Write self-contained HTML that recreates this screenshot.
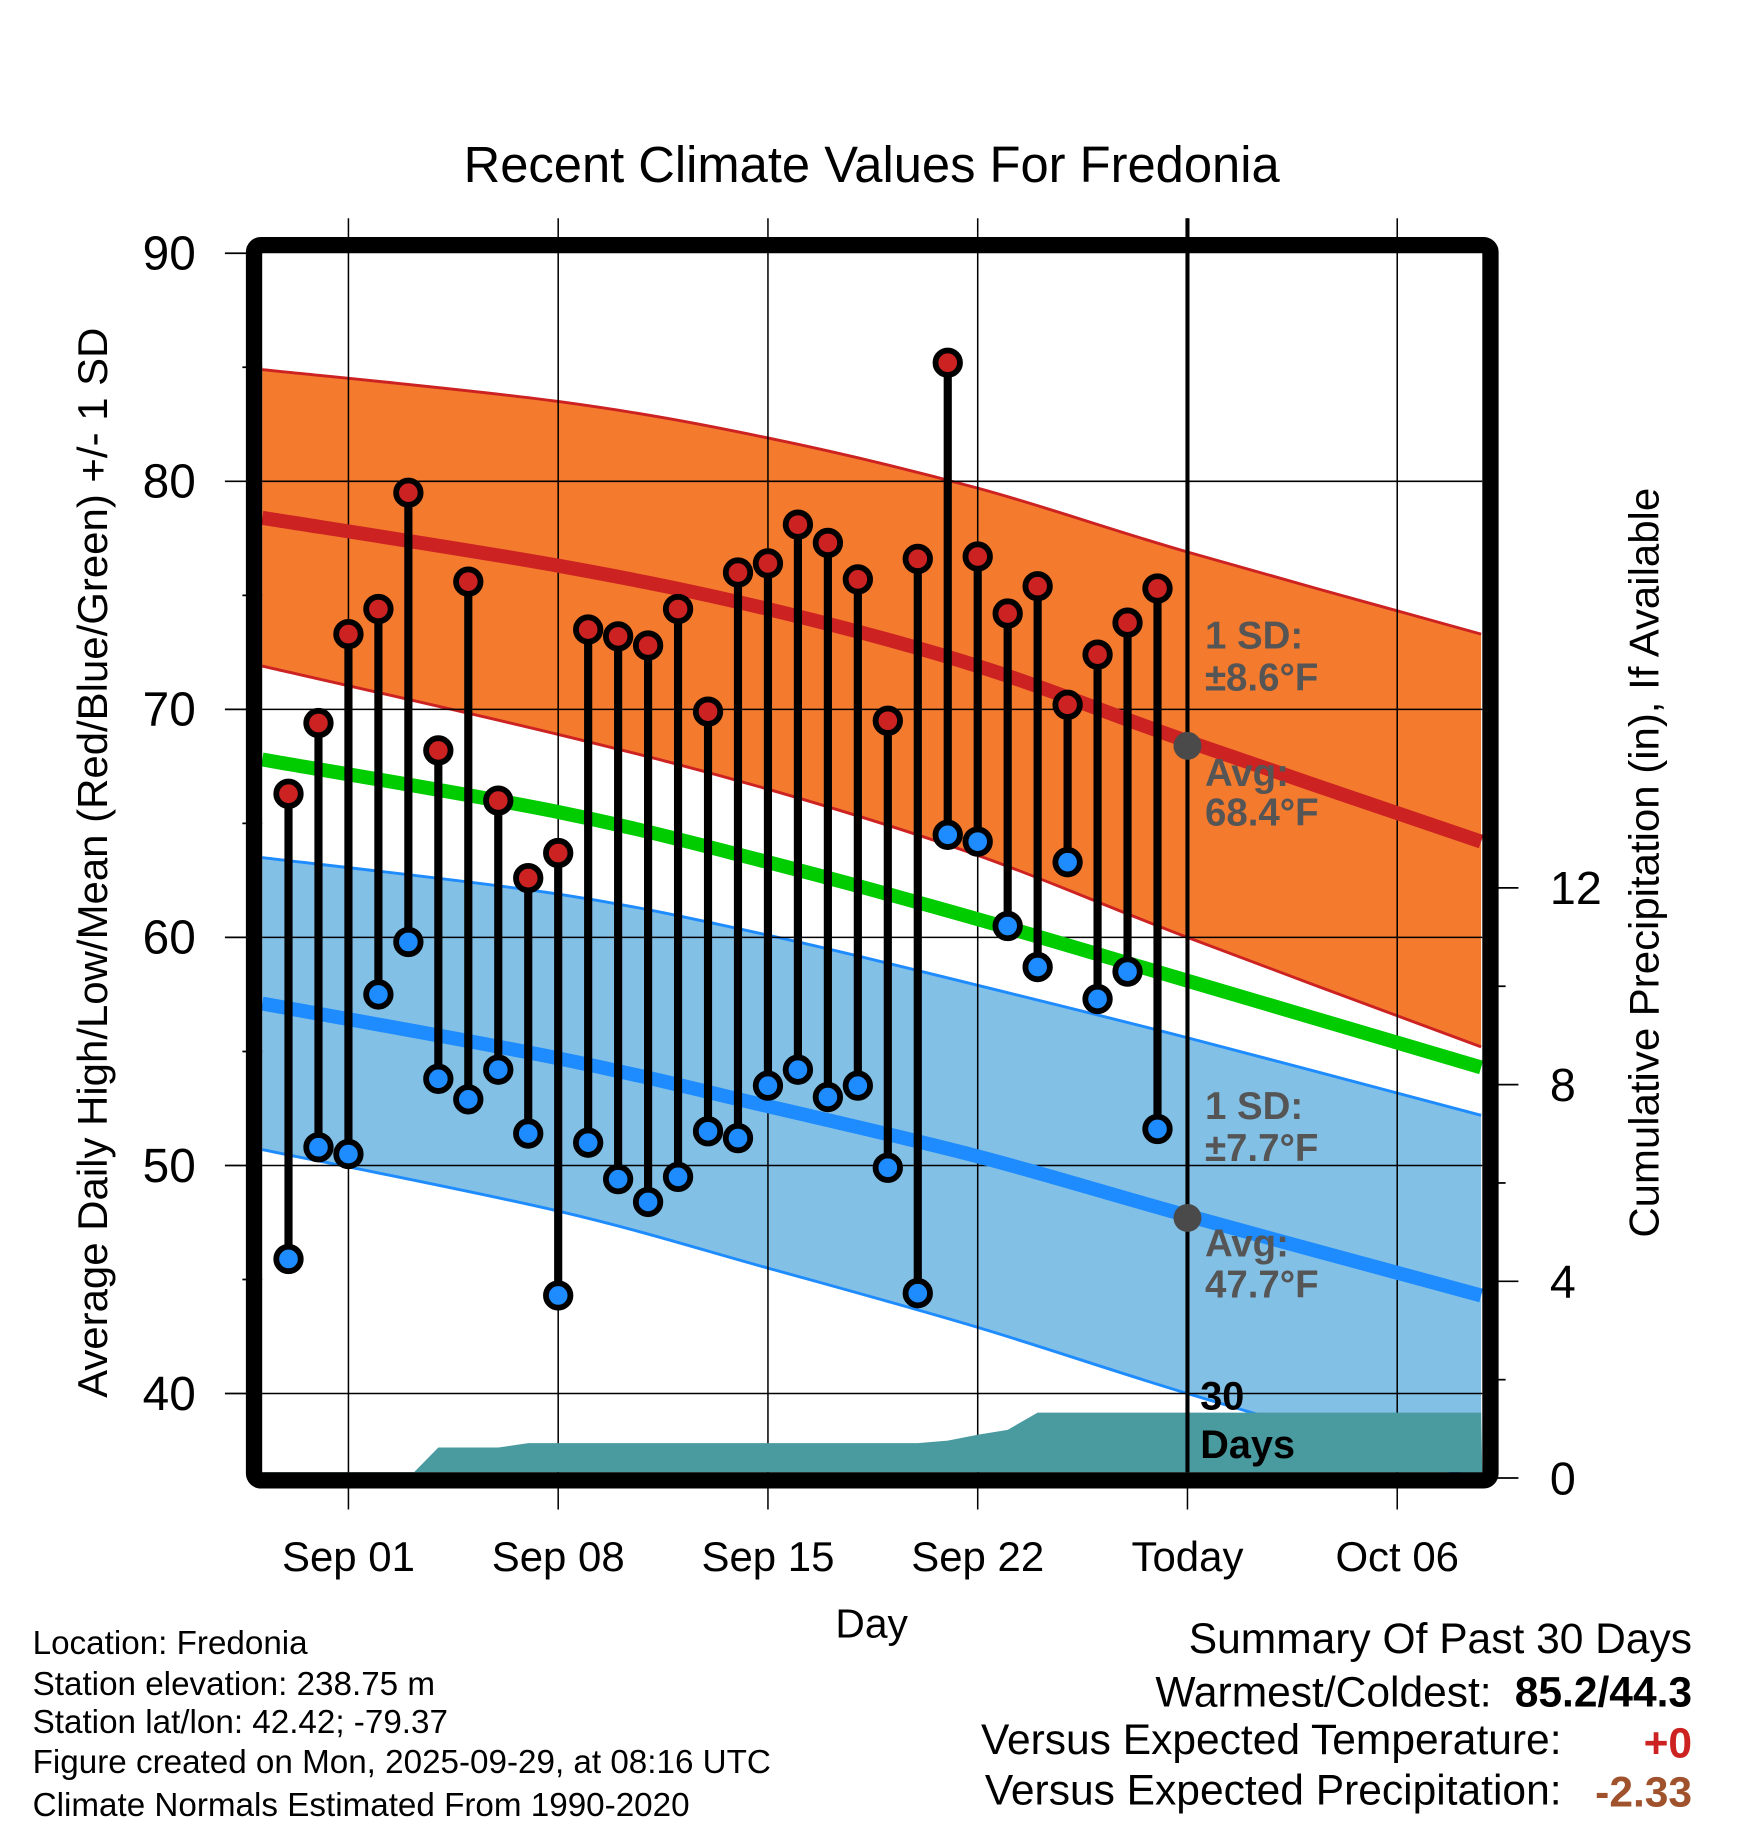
<!DOCTYPE html>
<html><head><meta charset="utf-8">
<style>
html,body{margin:0;padding:0;background:#fff;}
svg{display:block;font-family:"Liberation Sans",Arial,sans-serif;}
</style></head>
<body>
<svg id="chart" width="1748" height="1828" viewBox="0 0 1500 1568" xmlns="http://www.w3.org/2000/svg">
<g id="bands"></g>
<g id="grid"></g>
<g id="precip"></g>
<g id="lines"></g>
<g id="marks"></g>
<g id="frame"></g>
<g id="labels"></g>
</svg>
<script>
// ---- data ----
// day index: Sep 01 = 0
const tickDays = [0, 7, 14, 21, 28, 35];
const tickLabels = ["Sep 01", "Sep 08", "Sep 15", "Sep 22", "Today", "Oct 06"];
const yTicks = [40, 50, 60, 70, 80, 90];
const precipTicks = [0, 4, 8, 12];
const obsDays = [-2,-1,0,1,2,3,4,5,6,7,8,9,10,11,12,13,14,15,16,17,18,19,20,21,22,23,24,25,26,27];
const highs = [66.3,69.4,73.3,74.4,79.5,68.2,75.6,66.0,62.6,63.7,73.5,73.2,72.8,74.4,69.9,76.0,76.4,78.1,77.3,75.7,69.5,76.6,85.2,76.7,74.2,75.4,70.2,72.4,73.8,75.3];
const lows  = [45.9,50.8,50.5,57.5,59.8,53.8,52.9,54.2,51.4,44.3,51.0,49.4,48.4,49.5,51.5,51.2,53.5,54.2,53.0,53.5,49.9,44.4,64.5,64.2,60.5,58.7,63.3,57.3,58.5,51.6];
const normDays = [-2.9, 7, 14, 21, 28, 37.8];
const highUpper = [84.9, 83.5, 81.9, 79.7, 76.9, 73.3];
const highAvg   = [78.4, 76.3, 74.4, 71.9, 68.6, 64.2];
const highLower = [71.9, 68.9, 66.5, 63.6, 60.0, 55.2];
const meanAvg   = [67.8, 65.5, 63.3, 60.8, 58.1, 54.3];
const lowUpper  = [63.5, 61.9, 60.1, 57.9, 55.6, 52.2];
const lowAvg    = [57.1, 54.7, 52.6, 50.4, 47.8, 44.3];
const lowLower  = [50.7, 48.0, 45.5, 42.9, 40.0, 36.2];
const precipDays = [-2.9,1,2,3,4,5,6,7,8,9,10,11,12,13,14,15,16,17,18,19,20,21,22,23,24,25,26,27,37.8];
const precipCum  = [0,0,0,0.62,0.62,0.62,0.71,0.71,0.71,0.71,0.71,0.71,0.71,0.71,0.71,0.71,0.71,0.71,0.71,0.71,0.76,0.88,0.98,1.33,1.33,1.33,1.33,1.33,1.33];

// ---- axes ----
const L=225, R=1272, T=217, B=1263;
const x = d => 299 + d*25.714;
const y = t => 217 + (90 - t)*19.57;
const yp = p => 1268 - p*42.2;
const NS="http://www.w3.org/2000/svg";
function mk(parent, tag, attrs, text){
  const e=document.createElementNS(NS,tag);
  for(const k in attrs) e.setAttribute(k, attrs[k]);
  if(text!==undefined) e.textContent=text;
  document.getElementById(parent).appendChild(e);
  return e;
}
function pts(days, vals, f){ return days.map((d,i)=>[Math.max(L,Math.min(R,x(d))), f(vals[i])]); }
// smooth Catmull-Rom path through points
function smooth(p, move){
  let s = (move?'M':'L')+p[0][0]+','+p[0][1];
  for(let i=0;i<p.length-1;i++){
    const p0=p[Math.max(0,i-1)], p1=p[i], p2=p[i+1], p3=p[Math.min(p.length-1,i+2)];
    const c1=[p1[0]+(p2[0]-p0[0])/6, p1[1]+(p2[1]-p0[1])/6];
    const c2=[p2[0]-(p3[0]-p1[0])/6, p2[1]-(p3[1]-p1[1])/6];
    s+=` C${c1[0]},${c1[1]} ${c2[0]},${c2[1]} ${p2[0]},${p2[1]}`;
  }
  return s;
}
function band(up, lo){ return smooth(pts(normDays,up,y),true)+' '+smooth(pts(normDays,lo,y).reverse(),false)+' Z'; }

let e;
e=mk('bands','path',{d: band(highUpper,highLower), fill:'#f47a2e'});


e=mk('bands','path',{d: band(lowUpper,lowLower), fill:'#83c0e6'});


[[highUpper,'#cc2222'],[highLower,'#cc2222'],[lowUpper,'#1e8cff'],[lowLower,'#1e8cff']].forEach(([v,c])=>{
  e=mk('bands','path',{d: smooth(pts(normDays,v,y),true), fill:'none', stroke:c, 'stroke-width':2.5});
  
  
});

// grid
yTicks.forEach(t=>{
  if(t<90){ e=mk('grid','line',{x1:L,x2:R,y1:y(t),y2:y(t),stroke:'#000','stroke-width':1.3});
  
   }
});
tickDays.forEach(d=>{
  e=mk('grid','line',{x1:x(d),x2:x(d),y1:187,y2:1295,stroke:'#000','stroke-width':1.3});
  
  
});

// precip
e=mk('precip','polygon',{points: pts(precipDays,precipCum,yp).map(p=>p.join(',')).concat([`${R},${B}`,`${L},${B}`]).join(' '), fill:'#4a9ba0'});



// normal lines
[[highAvg,'#cc2222','avg-high-line'],[meanAvg,'#00cc00','avg-mean-line'],[lowAvg,'#1e8cff','avg-low-line']].forEach(([v,c,n])=>{
  e=mk('lines','path',{d: smooth(pts(normDays,v,y),true), fill:'none', stroke:c, 'stroke-width':12});
  
  
});
e=mk('lines','line',{x1:x(28),x2:x(28),y1:187,y2:B,stroke:'#000','stroke-width':3.5});


e=mk('lines','circle',{cx:x(28),cy:y(68.4),r:12,fill:'#4a4a4a'});


e=mk('lines','circle',{cx:x(28),cy:y(47.7),r:12,fill:'#4a4a4a'});



// daily marks
obsDays.forEach((d,i)=>{
  e=mk('marks','line',{x1:x(d),x2:x(d),y1:y(highs[i]),y2:y(lows[i]),stroke:'#000','stroke-width':7});
  
  
  e=mk('marks','circle',{cx:x(d),cy:y(highs[i]),r:10.5,fill:'#cc2222',stroke:'#000','stroke-width':5});
  
  
  e=mk('marks','circle',{cx:x(d),cy:y(lows[i]),r:10.5,fill:'#1e8cff',stroke:'#000','stroke-width':5});
  
  
});

// frame
e=mk('frame','rect',{x:L-7,y:T-7,width:R-L+14,height:B-T+14,rx:6,fill:'none',stroke:'#000','stroke-width':14});



// y ticks & labels
yTicks.forEach(t=>{
  e=mk('labels','line',{x1:193,x2:L,y1:y(t),y2:y(t),stroke:'#000','stroke-width':1.5});
  
  
  e=mk('labels','text',{x:168,y:y(t)+14,'text-anchor':'end','font-size':41},String(t));
  
  
  if(t>40){
    e=mk('labels','line',{x1:208,x2:L,y1:y(t-5),y2:y(t-5),stroke:'#000','stroke-width':1.5});
    
    
  }
});
precipTicks.forEach(p=>{
  e=mk('labels','line',{x1:1280,x2:1303,y1:yp(p),y2:yp(p),stroke:'#000','stroke-width':1.5});
  
  
  e=mk('labels','text',{x:1330,y:yp(p)+14,'font-size':40},String(p));
  
  
  if(p>0){
    e=mk('labels','line',{x1:1280,x2:1292,y1:yp(p-2),y2:yp(p-2),stroke:'#000','stroke-width':1.5});
    
    
  }
});
tickDays.forEach((d,i)=>{
  e=mk('labels','text',{x:x(d),y:1348,'text-anchor':'middle','font-size':36},tickLabels[i]);
  
  
});
</script>
<svg style="position:absolute;left:0;top:0" width="1748" height="1828" viewBox="0 0 1500 1568" xmlns="http://www.w3.org/2000/svg" font-family="Liberation Sans, Arial, sans-serif">
  <text x="748" y="156" text-anchor="middle" font-size="43.5">Recent Climate Values For Fredonia</text>
  <text x="748" y="1405" text-anchor="middle" font-size="35">Day</text>
  <text transform="translate(92,740) rotate(-90)" text-anchor="middle" font-size="36">Average Daily High/Low/Mean (Red/Blue/Green) +/- 1 SD</text>
  <text transform="translate(1423,740) rotate(-90)" text-anchor="middle" font-size="36">Cumulative Precipitation (in), If Available</text>
  <g font-weight="bold" font-size="33" fill="#555">
    <text x="1034" y="556">1 SD:</text>
    <text x="1034" y="592">±8.6°F</text>
    <text x="1034" y="674">Avg:</text>
    <text x="1034" y="708">68.4°F</text>
    <text x="1034" y="960">1 SD:</text>
    <text x="1034" y="996">±7.7°F</text>
    <text x="1034" y="1078">Avg:</text>
    <text x="1034" y="1113">47.7°F</text>
  </g>
  <text x="1030" y="1209" font-weight="bold" font-size="34">30</text>
  <text x="1030" y="1251" font-weight="bold" font-size="34">Days</text>
  <g font-size="28.5">
    <text x="28" y="1419">Location: Fredonia</text>
    <text x="28" y="1454">Station elevation: 238.75 m</text>
    <text x="28" y="1487">Station lat/lon: 42.42; -79.37</text>
    <text x="28" y="1521">Figure created on Mon, 2025-09-29, at 08:16 UTC</text>
    <text x="28" y="1558">Climate Normals Estimated From 1990-2020</text>
  </g>
  <g font-size="36.5">
    <text x="1452" y="1418" text-anchor="end">Summary Of Past 30 Days</text>
    <text x="1280" y="1464" text-anchor="end">Warmest/Coldest:</text>
    <text x="1452" y="1464" text-anchor="end" font-weight="bold">85.2/44.3</text>
    <text x="1340" y="1505" text-anchor="end">Versus Expected Temperature:</text>
    <text x="1452" y="1508" text-anchor="end" font-weight="bold" fill="#cc2222">+0</text>
    <text x="1340" y="1548" text-anchor="end">Versus Expected Precipitation:</text>
    <text x="1452" y="1550" text-anchor="end" font-weight="bold" fill="#a0522d">-2.33</text>
  </g>
</svg>
</body></html>
